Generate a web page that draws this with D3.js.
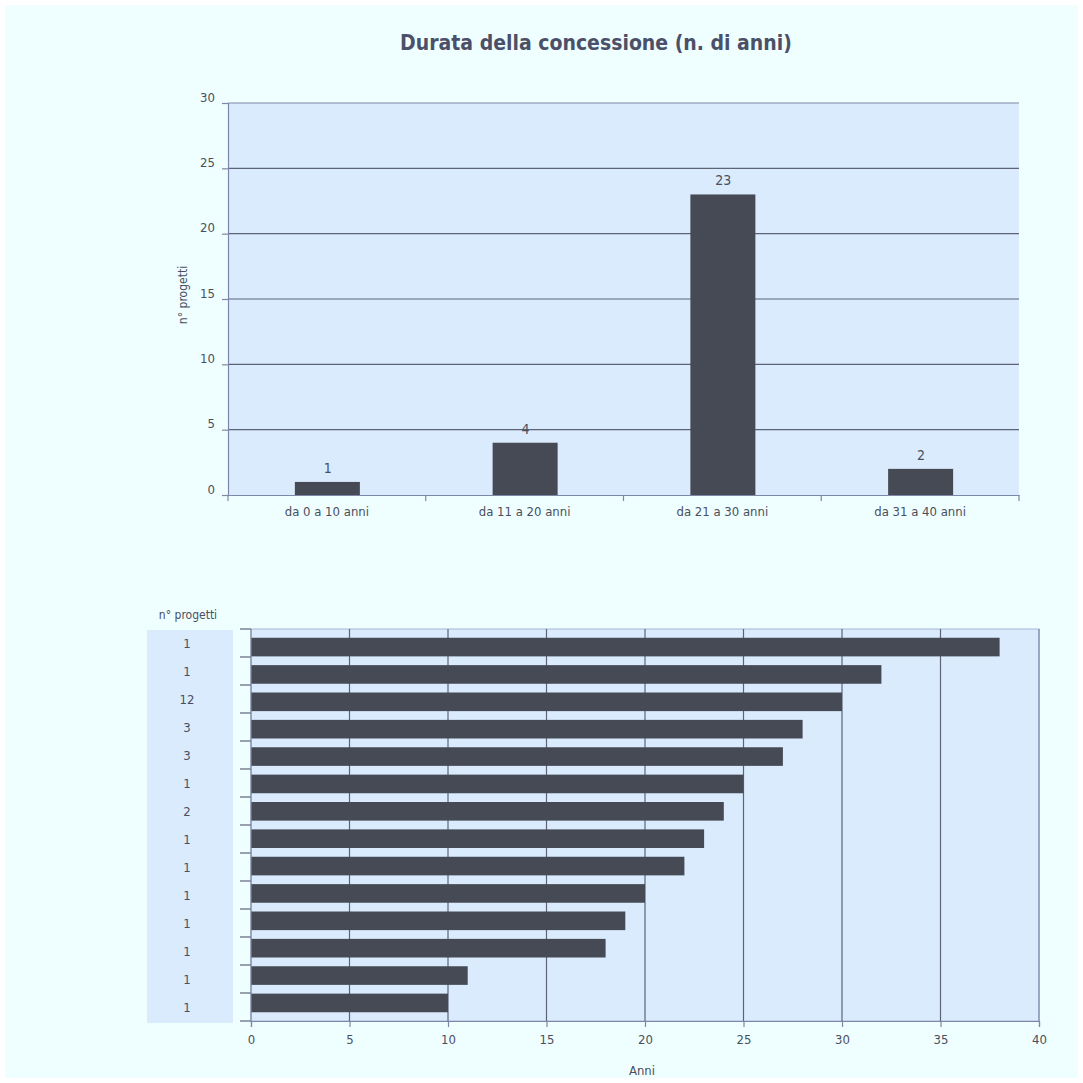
<!DOCTYPE html>
<html>
<head>
<meta charset="utf-8">
<script src="https://cdn.jsdelivr.net/npm/d3@7"></script>
<style>
  body { margin: 0; background: #ffffff; }
  svg text { font-family: "DejaVu Sans Condensed", "DejaVu Sans", sans-serif; font-stretch: condensed; fill: #4a4f5e; }
</style>
</head>
<body>
<div id="chart"></div>
<script>
// Top chart: number of projects per duration class
var classes = ["da 0 a 10 anni", "da 11 a 20 anni", "da 21 a 30 anni", "da 31 a 40 anni"];
var classCounts = [1, 4, 23, 2];
var yTicks = [0, 5, 10, 15, 20, 25, 30];

// Bottom chart: duration in years and number of projects
var durations = [38, 32, 30, 28, 27, 25, 24, 23, 22, 20, 19, 18, 11, 10];
var projectCounts = [1, 1, 12, 3, 3, 1, 2, 1, 1, 1, 1, 1, 1, 1];
var xTicks = [0, 5, 10, 15, 20, 25, 30, 35, 40];

var svgWidth = 1083;
var svgHeight = 1083;
var barColor = "#464a55";
var plotBg = "#d9ebfd";
var gridColor = "#5d6478";
var axisColor = "#7d88a8";

var svg = d3.select("#chart")
  .append("svg")
  .attr("width", svgWidth)
  .attr("height", svgHeight);

svg.append("rect")
  .attr("x", 5).attr("y", 5)
  .attr("width", svgWidth - 10).attr("height", svgHeight - 10)
  .attr("fill", "#effefe");

svg.append("text")
  .attr("x", 596).attr("y", 50)
  .attr("text-anchor", "middle")
  .attr("font-size", "21px")
  .attr("font-weight", "bold")
  .style("fill", "#4b5068")
  .text("Durata della concessione (n. di anni)");

// ---- top chart ----
var box1 = { left: 228, right: 1019, top: 103, bottom: 495 };

var xOuter = d3.scaleBand().domain(classes).range([box1.left, box1.right]);
var yLin = d3.scaleLinear().domain([0, 30]).range([box1.bottom, box1.top]);

var g1 = svg.append("g");

g1.append("rect")
  .attr("x", box1.left).attr("y", box1.top)
  .attr("width", box1.right - box1.left).attr("height", box1.bottom - box1.top)
  .attr("fill", plotBg);

g1.selectAll("line.grid")
  .data(yTicks.filter(d => d > 0))
  .enter()
  .append("line")
  .attr("class", "grid")
  .attr("x1", box1.left).attr("x2", box1.right)
  .attr("y1", d => yLin(d)).attr("y2", d => yLin(d))
  .attr("stroke", d => d === 30 ? axisColor : gridColor)
  .attr("stroke-width", 1.2);

g1.selectAll("rect.bar")
  .data(classCounts)
  .enter()
  .append("rect")
  .attr("class", "bar")
  .attr("x", (d, i) => xOuter(classes[i]) + xOuter.bandwidth() / 2 - 32)
  .attr("y", d => yLin(d))
  .attr("width", 65)
  .attr("height", d => yLin(0) - yLin(d))
  .attr("fill", barColor);

g1.selectAll("text.val")
  .data(classCounts)
  .enter()
  .append("text")
  .attr("class", "val")
  .attr("x", (d, i) => xOuter(classes[i]) + xOuter.bandwidth() / 2 + 1)
  .attr("y", d => yLin(d) - 9)
  .attr("text-anchor", "middle")
  .attr("font-size", "14px")
  .text(d => d);

var yAxis = d3.axisLeft(yLin).tickValues(yTicks).tickSize(6).tickPadding(7);
var yg = g1.append("g").attr("transform", `translate(${box1.left},0)`).call(yAxis);
yg.selectAll("text").attr("font-size", "13px").attr("dy", "-0.15em");

var xAxis = d3.axisBottom(xOuter).tickSize(0).tickPadding(12);
var xg = g1.append("g").attr("transform", `translate(0,${box1.bottom})`).call(xAxis);
xg.selectAll("text").attr("font-size", "13px");

// category boundary ticks
g1.selectAll("line.btick")
  .data(classes.map(c => xOuter(c)).concat([box1.right]))
  .enter()
  .append("line")
  .attr("class", "btick")
  .attr("x1", d => d).attr("x2", d => d)
  .attr("y1", box1.bottom).attr("y2", box1.bottom + 6)
  .attr("stroke", axisColor).attr("stroke-width", 1.2);

[yg, xg].forEach(function(a) {
  a.selectAll("path,line").attr("stroke", axisColor).attr("stroke-width", 1.2);
});

g1.append("text")
  .attr("transform", `translate(187, 295) rotate(-90)`)
  .attr("text-anchor", "middle")
  .attr("font-size", "12px")
  .text("n° progetti");

// ---- bottom chart ----
var box2 = { left: 251, right: 1039, top: 629, bottom: 1021 };
var rowIdx = durations.map((d, i) => i);

var xLin = d3.scaleLinear().domain([0, 40]).range([box2.left, box2.right]);
var yRow = d3.scaleBand().domain(rowIdx).range([box2.top, box2.bottom]).padding(0.32);
var yRowOuter = d3.scaleBand().domain(rowIdx).range([box2.top, box2.bottom]);

var g2 = svg.append("g");

g2.append("rect")
  .attr("x", 147).attr("y", box2.top + 1)
  .attr("width", 86).attr("height", box2.bottom - box2.top + 1)
  .attr("fill", plotBg);

g2.append("text")
  .attr("x", 188).attr("y", 619)
  .attr("text-anchor", "middle")
  .attr("font-size", "12px")
  .text("n° progetti");

g2.append("rect")
  .attr("x", box2.left).attr("y", box2.top)
  .attr("width", box2.right - box2.left).attr("height", box2.bottom - box2.top)
  .attr("fill", plotBg)
  .attr("stroke", "#a9b6d0");

g2.selectAll("line.vgrid")
  .data(xTicks.filter(d => d > 0))
  .enter()
  .append("line")
  .attr("class", "vgrid")
  .attr("x1", d => xLin(d)).attr("x2", d => xLin(d))
  .attr("y1", box2.top).attr("y2", box2.bottom)
  .attr("stroke", d => d === 40 ? axisColor : gridColor)
  .attr("stroke-width", 1.2);

g2.selectAll("rect.hbar")
  .data(durations)
  .enter()
  .append("rect")
  .attr("class", "hbar")
  .attr("x", xLin(0))
  .attr("y", (d, i) => yRow(i))
  .attr("width", d => xLin(d) - xLin(0))
  .attr("height", yRow.bandwidth())
  .attr("fill", barColor);

g2.selectAll("text.cnt")
  .data(projectCounts)
  .enter()
  .append("text")
  .attr("class", "cnt")
  .attr("x", 187)
  .attr("y", (d, i) => yRowOuter(i) + yRowOuter.bandwidth() / 2 + 5)
  .attr("text-anchor", "middle")
  .attr("font-size", "13px")
  .text(d => d);

// row boundary ticks on the left axis
g2.selectAll("line.rtick")
  .data(rowIdx.map(i => yRowOuter(i)).concat([box2.bottom]))
  .enter()
  .append("line")
  .attr("class", "rtick")
  .attr("x1", box2.left - 11).attr("x2", box2.left)
  .attr("y1", d => d).attr("y2", d => d)
  .attr("stroke", gridColor).attr("stroke-width", 1.2);

g2.append("line")
  .attr("x1", box2.left).attr("x2", box2.left)
  .attr("y1", box2.top).attr("y2", box2.bottom)
  .attr("stroke", axisColor).attr("stroke-width", 1.2);

var xAxis2 = d3.axisBottom(xLin).tickValues(xTicks).tickSize(6).tickPadding(8);
var xg2 = g2.append("g").attr("transform", `translate(0,${box2.bottom})`).call(xAxis2);
xg2.selectAll("text").attr("font-size", "13px");
xg2.selectAll("path,line").attr("stroke", axisColor).attr("stroke-width", 1.2);

g2.append("text")
  .attr("x", 642).attr("y", 1075)
  .attr("text-anchor", "middle")
  .attr("font-size", "13px")
  .text("Anni");
</script>
</body>
</html>
